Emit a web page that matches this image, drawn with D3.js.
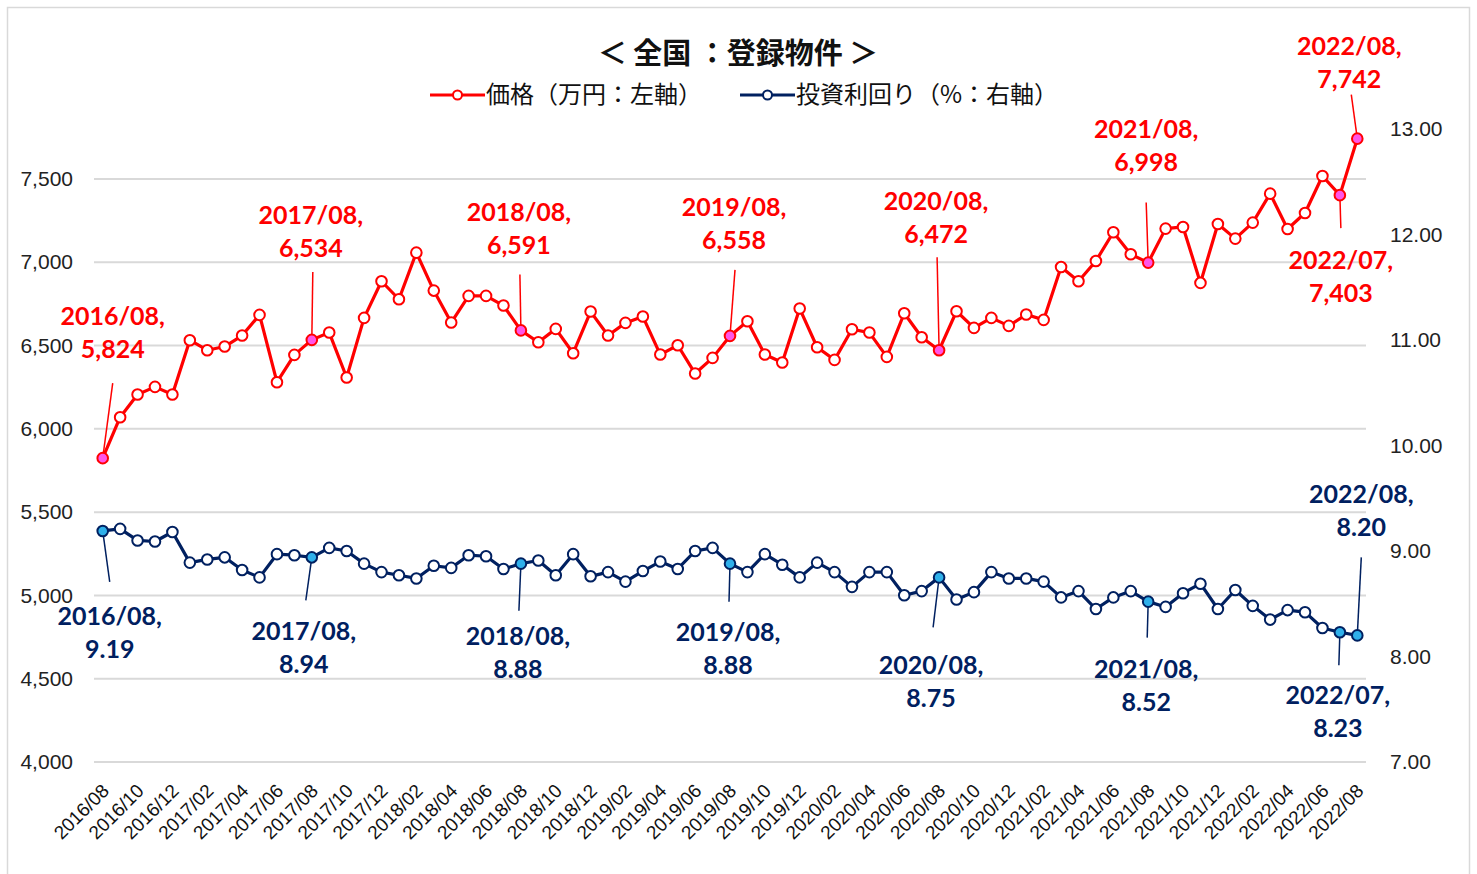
<!DOCTYPE html>
<html><head><meta charset="utf-8">
<script src="https://cdn.jsdelivr.net/npm/d3@7"></script>
<style>body{margin:0;background:#fff;} svg{display:block;}</style>
</head><body>
<svg id="chart" width="1477" height="874"></svg>
<script>
// ---- data ----
const categories = [];
(function(){ let y=2016,m=8; for(let i=0;i<73;i++){ categories.push(y+"/"+String(m).padStart(2,"0")); m++; if(m>12){m=1;y++;} } })();
const prices = [5824,6070,6206,6252,6206,6532,6472,6494,6560,6684,
  6280,6444,6534,6578,6308,6666,6886,6778,7058,6830,
  6638,6798,6798,6740,6591,6520,6600,6454,6704,6560,
  6636,6674,6446,6502,6332,6426,6558,6646,6446,6398,
  6722,6490,6414,6598,6578,6432,6694,6550,6472,6706,
  6606,6666,6618,6686,6654,6972,6886,7008,7180,7048,
  6998,7202,7212,6876,7230,7142,7238,7412,7200,7296,7518,7403,7742];
const yields = [9.19,9.21,9.10,9.09,9.18,8.89,8.92,8.94,8.82,8.75,
  8.97,8.96,8.94,9.03,9.00,8.88,8.80,8.77,8.74,8.86,
  8.84,8.96,8.95,8.83,8.88,8.91,8.77,8.97,8.76,8.80,
  8.71,8.81,8.90,8.83,9.00,9.03,8.88,8.80,8.97,8.87,
  8.75,8.89,8.80,8.66,8.80,8.80,8.58,8.62,8.75,8.54,
  8.61,8.80,8.74,8.74,8.71,8.56,8.62,8.45,8.56,8.62,
  8.52,8.47,8.60,8.69,8.45,8.63,8.48,8.35,8.44,8.42,8.27,8.23,8.20];
const leftTicks = [4000,4500,5000,5500,6000,6500,7000,7500];
const rightTicks = [7,8,9,10,11,12,13];
const xTickLabels = categories.filter((d,i)=>i%2===0);
const highlighted = ["2016/08","2017/08","2018/08","2019/08","2020/08","2021/08","2022/07","2022/08"];
const titleText = "＜ 全国 ：登録物件 ＞";
const legendPrice = "価格（万円：左軸）";
const legendYield = "投資利回り（%：右軸）";

// ---- layout (annotation offsets relative to point) ----
const priceAnn = [
  {c:"2016/08", dx:10, b1:-133, lt:-75, ldx:10},
  {c:"2017/08", dx:-1, b1:-116, lt:-68, ldx:1},
  {c:"2018/08", dx:-2, b1:-109, lt:-56, ldx:-1},
  {c:"2019/08", dx:4, b1:-120, lt:-66, ldx:5},
  {c:"2020/08", dx:-3, b1:-140, lt:-93, ldx:-2},
  {c:"2021/08", dx:-2, b1:-125, lt:-60, ldx:-2},
  {c:"2022/08", dx:-8, b1:-84, lt:-44, ldx:-6},
  {c:"2022/07", dx:1, b1:74, lt:33, ldx:1, below:true}
];
const yieldAnn = [
  {c:"2016/08", dx:7, b1:94, lt:51, ldx:7, below:true},
  {c:"2017/08", dx:-8, b1:83, lt:43, ldx:-6, below:true},
  {c:"2018/08", dx:-3, b1:81, lt:47, ldx:-2, below:true},
  {c:"2019/08", dx:-2, b1:77, lt:38, ldx:-1, below:true},
  {c:"2020/08", dx:-8, b1:97, lt:50, ldx:-6, below:true},
  {c:"2021/08", dx:-2, b1:76, lt:36, ldx:-1, below:true},
  {c:"2022/07", dx:-2, b1:72, lt:33, ldx:-1, below:true},
  {c:"2022/08", dx:4, b1:-132, lt:-78, ldx:4}
];

const RED="#ff0000", NAVY="#002060", PINK="#ff55e8", CYAN="#2fb0ea", GRID="#d9d9d9";
const svg = d3.select("#chart");
svg.append("rect").attr("x",7.5).attr("y",7.5).attr("width",1462).attr("height",880)
  .attr("fill","#fff").attr("stroke",GRID).attr("stroke-width",1.5);

const plot = {l:94, r:1366, t:129, b:762};
const x = d3.scalePoint().domain(categories).range([plot.l, plot.r]).padding(0.5);
const yL = d3.scaleLinear().domain([4000,7800]).range([plot.b, plot.t]);
const yR = d3.scaleLinear().domain([7,13]).range([plot.b, plot.t]);

// gridlines
svg.append("g").selectAll("line").data(leftTicks).join("line")
  .attr("x1",plot.l).attr("x2",plot.r).attr("y1",d=>yL(d)).attr("y2",d=>yL(d))
  .attr("stroke",GRID).attr("stroke-width",2);

// left axis
const fmt = d3.format(",");
const gL = svg.append("g").attr("transform",`translate(${plot.l},0)`)
  .call(d3.axisLeft(yL).tickValues(leftTicks).tickFormat(fmt).tickSize(0).tickPadding(21));
gL.select(".domain").remove();
gL.selectAll("text").attr("font-family","Liberation Sans, Arial, sans-serif").attr("font-size",21).attr("fill","#222");

// right axis
const gR = svg.append("g").attr("transform",`translate(${plot.r},0)`)
  .call(d3.axisRight(yR).tickValues(rightTicks).tickFormat(d3.format(".2f")).tickSize(0).tickPadding(24));
gR.select(".domain").remove();
gR.selectAll("text").attr("font-family","Liberation Sans, Arial, sans-serif").attr("font-size",21).attr("fill","#222");

// x axis labels
const gX = svg.append("g").attr("transform",`translate(0,${plot.b})`)
  .call(d3.axisBottom(x).tickValues(xTickLabels).tickSize(0).tickPadding(0));
gX.select(".domain").remove();
gX.selectAll("text").attr("font-family","Liberation Sans, Arial, sans-serif").attr("font-size",19).attr("fill","#111")
  .attr("text-anchor","end").attr("dy",null).attr("y",null)
  .attr("transform","translate(7,30) rotate(-45)");

// lines
function series(vals, ys, color, hiFill){
  const g = svg.append("g");
  g.append("path").datum(vals)
    .attr("d", d3.line().x((d,i)=>x(categories[i])).y(d=>ys(d)))
    .attr("fill","none").attr("stroke",color).attr("stroke-width",3.2).attr("stroke-linejoin","round");
  g.selectAll("circle").data(vals).join("circle")
    .attr("cx",(d,i)=>x(categories[i])).attr("cy",d=>ys(d)).attr("r",5.3)
    .attr("fill",(d,i)=>highlighted.includes(categories[i])?hiFill:"#fff")
    .attr("stroke",color).attr("stroke-width",2);
}

// annotations
function annotate(anns, vals, ys, color, fmtV){
  const g = svg.append("g");
  anns.forEach(a=>{
    const i = categories.indexOf(a.c);
    const px = x(a.c), py = ys(vals[i]);
    g.append("line").attr("x1",px+a.ldx).attr("y1",py+a.lt).attr("x2",px).attr("y2",py)
      .attr("stroke",color).attr("stroke-width",1.5);
    const t = g.append("text").attr("x",px+a.dx).attr("y",py+a.b1)
      .attr("text-anchor","middle").attr("font-family","Lato, sans-serif").attr("font-weight",700)
      .attr("font-size",25).attr("fill",color);
    t.append("tspan").attr("x",px+a.dx).text(a.c+",");
    t.append("tspan").attr("x",px+a.dx).attr("dy",33).text(fmtV(vals[i]));
  });
}
annotate(priceAnn, prices, yL, RED, d3.format(","));
annotate(yieldAnn, yields, yR, NAVY, d3.format(".2f"));
series(prices, yL, RED, PINK);
series(yields, yR, NAVY, CYAN);

// title
svg.append("text").attr("x",738).attr("y",64).attr("text-anchor","middle")
  .attr("font-family","Noto Sans CJK JP, sans-serif").attr("font-weight",700).attr("font-size",29)
  .attr("fill","#111").text(titleText);

// legend
function legendItem(x0, color, label){
  const g = svg.append("g");
  g.append("line").attr("x1",x0).attr("x2",x0+55).attr("y1",95).attr("y2",95).attr("stroke",color).attr("stroke-width",3);
  g.append("circle").attr("cx",x0+27.5).attr("cy",95).attr("r",4.5).attr("fill","#fff").attr("stroke",color).attr("stroke-width",2);
  g.append("text").attr("x",x0+56).attr("y",103).attr("font-family","Noto Sans CJK JP, sans-serif")
    .attr("font-size",24).attr("fill","#111").text(label);
}
legendItem(430, RED, legendPrice);
legendItem(740, NAVY, legendYield);
</script>
</body></html>
